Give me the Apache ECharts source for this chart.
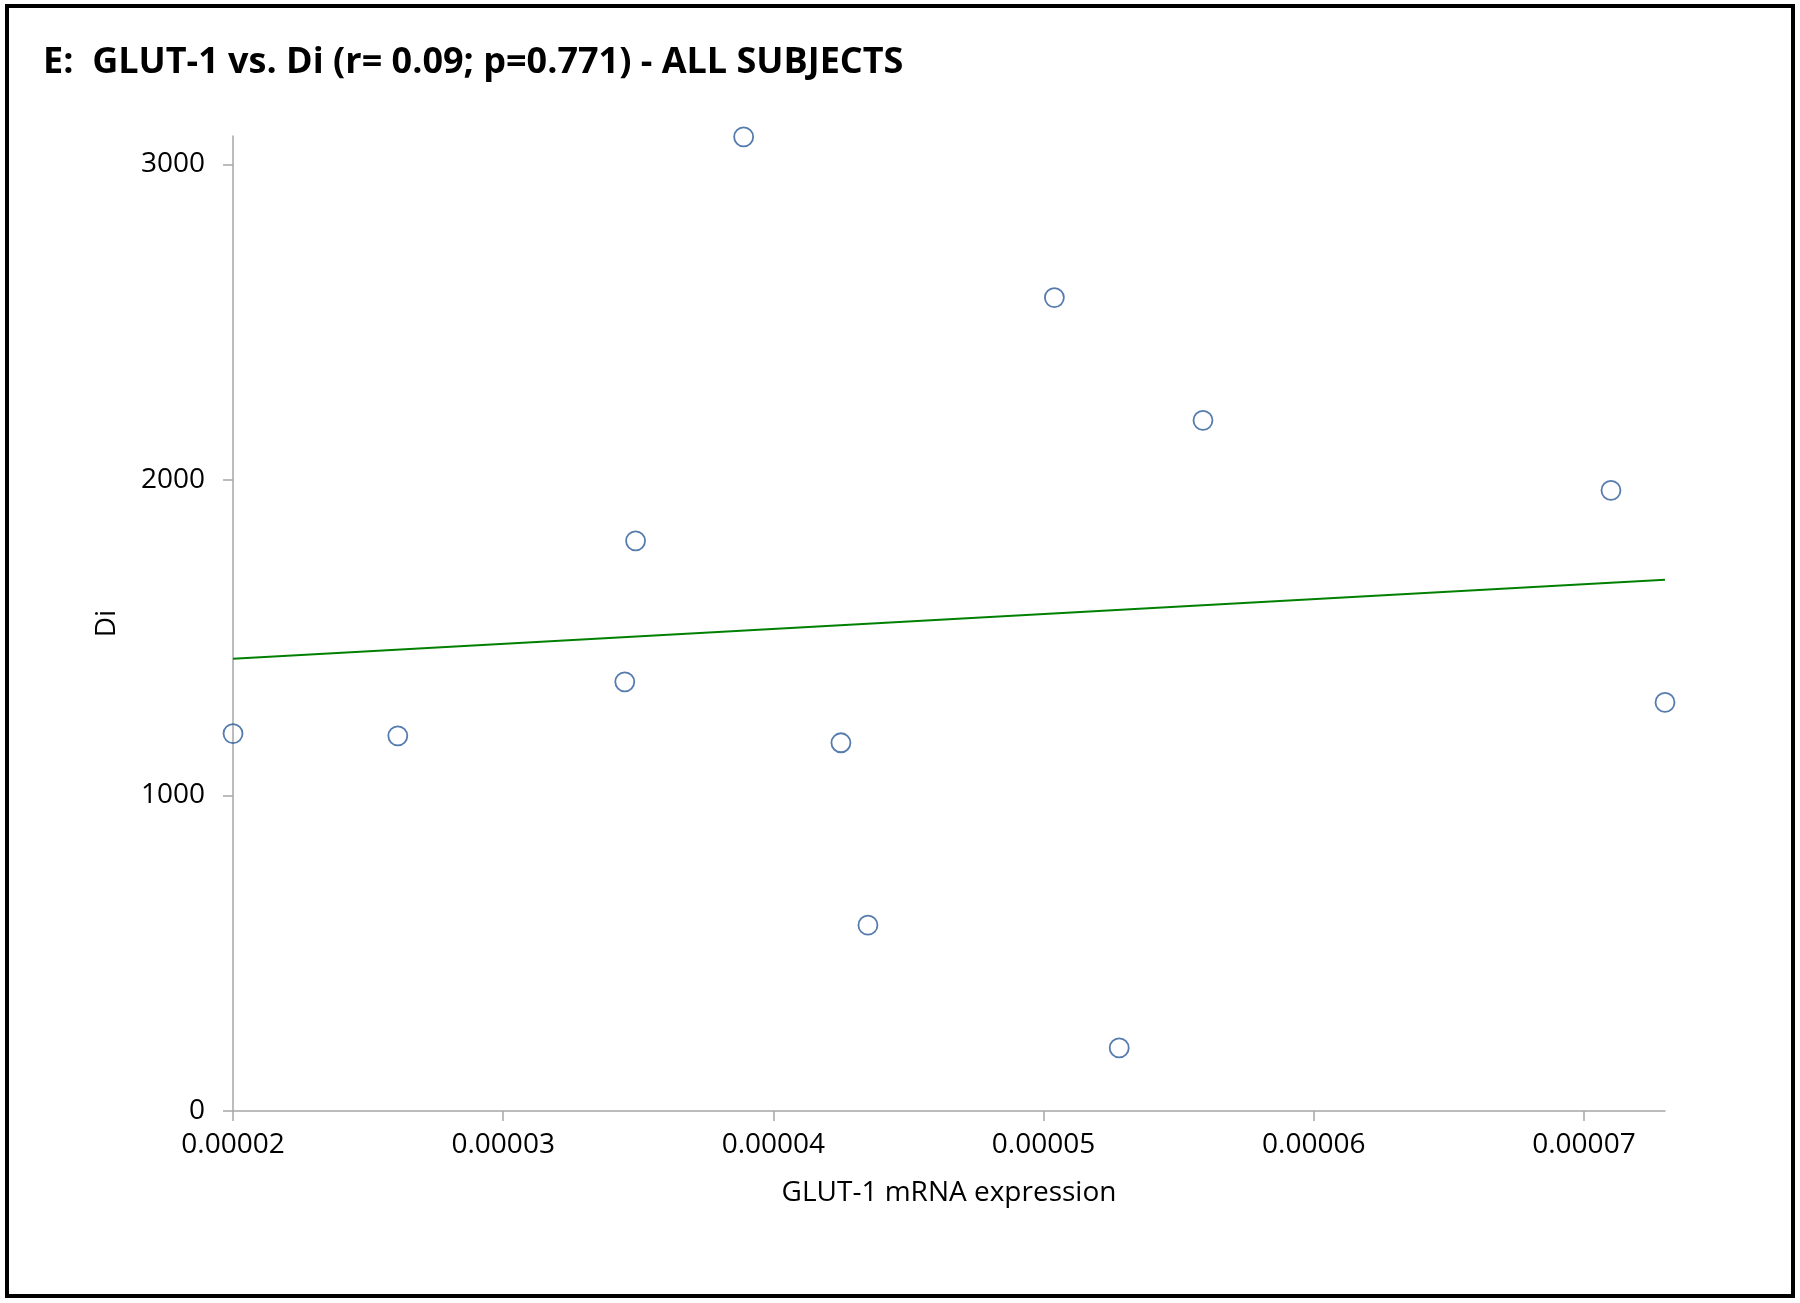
<!DOCTYPE html>
<html>
<head>
<meta charset="utf-8">
<script src="https://cdn.jsdelivr.net/npm/echarts@6/dist/echarts.min.js"></script>
<style>
html,body{margin:0;padding:0;background:#fff;}
#chart{width:1800px;height:1303px;}
</style>
</head>
<body>
<div id="chart"></div>
<script>
var titleText = 'E:  GLUT-1 vs. Di (r= 0.09; p=0.771) - ALL SUBJECTS';
var xAxisName = 'GLUT-1 mRNA expression';
var yAxisName = 'Di';
var glutValues = [0.00002, 0.0000261, 0.0000345, 0.0000349, 0.0000389, 0.0000425, 0.0000435, 0.0000504, 0.0000528, 0.0000559, 0.0000710, 0.0000730];
var diValues   = [1196, 1189, 1360, 1807, 3087, 1167, 589, 2578, 200, 2189, 1967, 1295];
var trendX = [0.00002, 0.000073];
var trendY = [1433, 1684];

var FONT = '"Open Sans", "Noto Sans", sans-serif';
var chart = echarts.init(document.getElementById('chart'), null, {renderer: 'canvas'});
var scatterData = glutValues.map(function (x, i) { return [x, diValues[i]]; });
var trendData = trendX.map(function (x, i) { return [x, trendY[i]]; });
var axisGray = '#a6a6a6';

chart.setOption({
  backgroundColor: '#ffffff',
  animation: false,
  title: {
    text: titleText,
    left: 38,
    top: 40,
    textStyle: {fontFamily: FONT, fontWeight: 'bold', fontSize: 36, color: '#000'}
  },
  graphic: [{
    type: 'rect',
    shape: {x: 7, y: 6, width: 1786, height: 1290},
    style: {fill: 'none', stroke: '#000', lineWidth: 4},
    silent: true
  }],
  grid: {left: 233, right: 135, top: 136, bottom: 192, containLabel: false},
  xAxis: {
    type: 'value',
    min: 0.00002,
    max: 0.000073,
    interval: 0.00001,
    name: xAxisName,
    nameLocation: 'middle',
    nameGap: 68,
    nameTextStyle: {fontFamily: FONT, fontSize: 28, color: '#000'},
    axisLine: {show: true, onZero: false, lineStyle: {color: axisGray, width: 1.5}},
    axisTick: {show: true, length: 10, lineStyle: {color: axisGray, width: 1.5}},
    axisLabel: {
      fontFamily: FONT, fontSize: 28, color: '#000', margin: 20,
      showMaxLabel: false,
      formatter: function (v) { return v.toFixed(5); }
    },
    splitLine: {show: false}
  },
  yAxis: {
    type: 'value',
    min: 0,
    max: 3090,
    interval: 1000,
    name: yAxisName,
    nameLocation: 'middle',
    nameGap: 112,
    nameRotate: 90,
    nameTextStyle: {fontFamily: FONT, fontSize: 28, color: '#000'},
    axisLine: {show: true, lineStyle: {color: axisGray, width: 1.5}},
    axisTick: {show: true, length: 10, lineStyle: {color: axisGray, width: 1.5}},
    axisLabel: {
      fontFamily: FONT, fontSize: 28, color: '#000', margin: 28, showMaxLabel: false,
      formatter: function (v) { return String(v); }
    },
    splitLine: {show: false}
  },
  series: [{
    type: 'line',
    data: trendData,
    symbol: 'none',
    lineStyle: {color: '#008000', width: 2},
    z: 2
  }, {
    type: 'scatter',
    data: scatterData,
    symbol: 'circle',
    symbolSize: 19,
    itemStyle: {color: 'rgba(255,255,255,0)', borderColor: '#2c5a98', borderWidth: 1.8},
    z: 3
  }]
});
</script>
</body>
</html>
